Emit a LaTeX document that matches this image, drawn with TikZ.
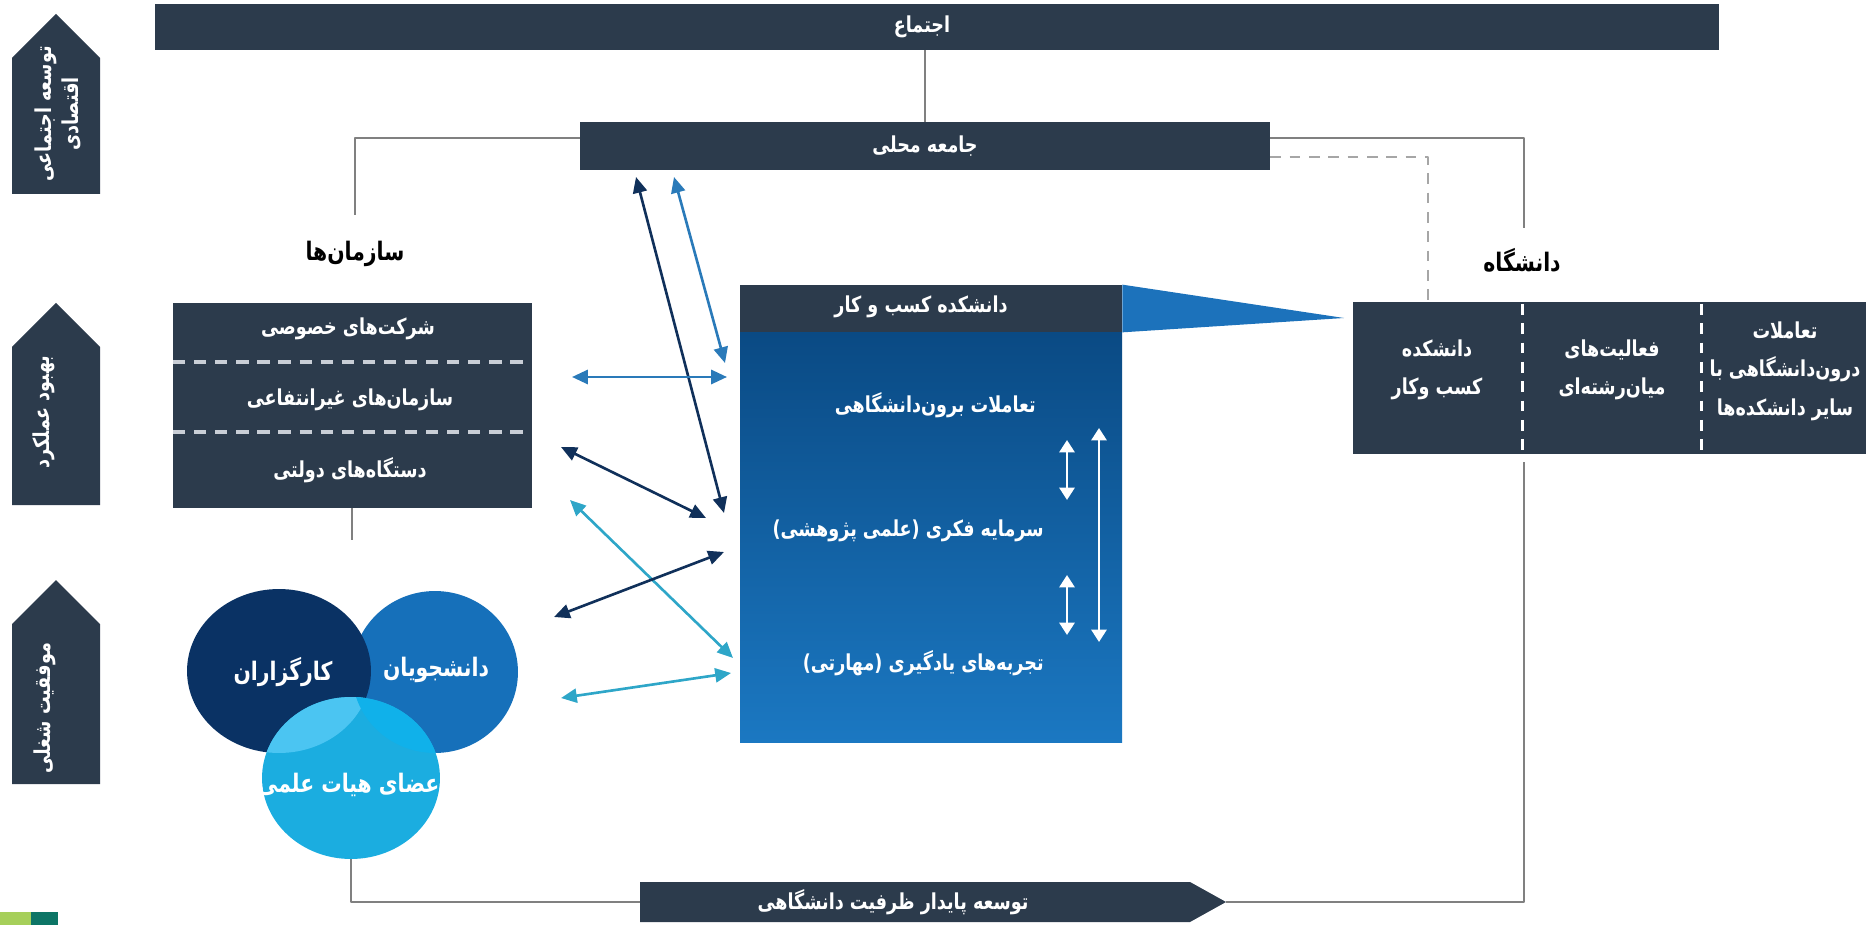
\documentclass[tikz,border=0pt]{standalone}
\usepackage{fontspec}
\usetikzlibrary{arrows.meta,shapes.geometric}
\newfontfamily\farsi[Script=Arabic, FakeStretch=0.8]{DejaVu Sans}
\TeXXeTstate=1
\newcommand\fa[1]{\beginR#1\endR}

\definecolor{slate}{HTML}{2C3B4C}
\definecolor{linkgray}{HTML}{808080}
\definecolor{navyarrow}{HTML}{10305A}
\definecolor{bluearrow}{HTML}{2A7AB9}
\definecolor{cyanarrow}{HTML}{2EA6C8}
\definecolor{circdark}{HTML}{0A3264}
\definecolor{circmid}{HTML}{1670BA}
\definecolor{circlight}{HTML}{1BADE0}
\definecolor{circpale}{HTML}{4BC5F2}
\definecolor{circbright}{HTML}{10B1EA}
\definecolor{bodytop}{HTML}{0A4A84}
\definecolor{bodymid}{HTML}{4465A0}
\definecolor{bodybot}{HTML}{1B78C2}
\definecolor{wedge}{HTML}{1C72BB}
\definecolor{sepgray}{HTML}{C9CED6}
\definecolor{logogreen}{HTML}{A6CF5A}
\definecolor{logoteal}{HTML}{0D7566}

\begin{document}
\begin{tikzpicture}[
        x=0.02cm, y=-0.02cm,
        line join=round,
        font=\farsi\bfseries\fontsize{12.5}{15}\selectfont,
        panel/.style 2 args={fill=slate, text=white, inner sep=0pt,
            minimum width=#1*0.02cm, minimum height=#2*0.02cm},
        blob/.style 2 args={ellipse, inner sep=0pt,
            minimum width=#1*0.04cm, minimum height=#2*0.04cm},
        whitetext/.style={text=white, align=center, inner sep=0pt},
        blobtext/.style={whitetext, font=\farsi\bfseries\fontsize{14.5}{17}\selectfont},
        heading/.style={font=\farsi\bfseries\fontsize{14.5}{17}\selectfont},
        unitext/.style={whitetext, font=\farsi\bfseries\fontsize{12.5}{22}\selectfont},
        link/.style={draw=linkgray, line width=1.1pt},
        dlink/.style={draw=linkgray!70, line width=1.1pt, dash pattern=on 6pt off 5pt},
        twoway/.style={line width=1.5pt,
            {Triangle[length=9pt,width=8pt]}-{Triangle[length=9pt,width=8pt]}},
        flowarrow/.style={white, line width=1.6pt,
            {Triangle[length=7pt,width=8.5pt]}-{Triangle[length=7pt,width=8.5pt]}}
    ]
        \useasboundingbox (0,0) rectangle (1875,925);

        % 左侧三个向上的箭头
        \foreach \ya/\yb in {14/194, 303/505, 580/784} {
            \fill[slate] (12,\yb) -- (12,\ya+44) -- (56,\ya)
                -- (100,\ya+44) -- (100,\yb) -- cycle;
        }
        \node[whitetext, rotate=90] (goalA) at (58,114) {\fa{توسعه اجتماعی}\\\fa{اقتصادی}};
        \node[whitetext, rotate=90] (goalB) at (44,412) {\fa{بهبود عملکرد}};
        \node[whitetext, rotate=90] (goalC) at (45,708) {\fa{موفقیت شغلی}};

        % 顶部横条
        \node[panel={1564}{46}] (society) at (937,27) {};
        \node[whitetext] (societytext) at (922,27) {\fa{اجتماع}};
        \node[panel={690}{48}] (local) at (925,146) {\fa{جامعه محلی}};
        \draw[link] (society.south -| local.north) -- (local.north);

        % 两侧标题
        \node[heading] (orgs) at (355,254) {\fa{سازمان‌ها}};
        \node[heading] (univ) at (1522,260) {\fa{دانشگاه}};

        % 连接线
        \coordinate (orgtop) at (355,215);
        \coordinate (unitop) at (1524,228);
        \coordinate (unidash) at (1428,302);
        \draw[link] ([yshift=4.5pt]local.west) -| (orgtop);
        \draw[link] ([yshift=4.5pt]local.east) -| (unitop);
        \draw[dlink] ([yshift=-6.3pt]local.east) -| (unidash);

        % 组织方框
        \node[panel={359}{205}] (org) at (352,405.5) {};
        \foreach \ys in {362,432} {
            \draw[sepgray, line width=1.8pt, dash pattern=on 7pt off 5pt]
                (173,\ys) -- (531,\ys);
        }
        \node[whitetext] (firms) at (348,329) {\fa{شرکت‌های خصوصی}};
        \node[whitetext] (ngos) at (350,400) {\fa{سازمان‌های غیرانتفاعی}};
        \node[whitetext] (govt) at (350,470) {\fa{دستگاه‌های دولتی}};
        \coordinate (orgfoot) at (352,540);
        \draw[link] (org.south) -- (orgfoot);

        % 三个圆
        \node[blob={83}{81}, fill=circmid] (students) at (435,672) {};
        \node[blob={92}{82}, fill=circdark] (brokers) at (279,671) {};
        \node[blob={89}{81}, fill=circlight] (faculty) at (351,778) {};
        \begin{scope}
            \clip (279,671) ellipse[x radius=1.84cm, y radius=1.64cm];
            \fill[circpale] (351,778) ellipse[x radius=1.78cm, y radius=1.62cm];
        \end{scope}
        \begin{scope}
            \clip (435,672) ellipse[x radius=1.66cm, y radius=1.62cm];
            \fill[circbright] (351,778) ellipse[x radius=1.78cm, y radius=1.62cm];
        \end{scope}
        \node[blobtext] (brokerstext) at (283,672) {\fa{کارگزاران}};
        \node[blobtext] (studentstext) at (436,670) {\fa{دانشجویان}};
        \node[blobtext] (facultytext) at (352,785) {\fa{اعضای هیات علمی}};

        % 底部箭头
        \fill[slate] (640,882) -- (1190,882) -- (1226,902) -- (1190,922) -- (640,922) -- cycle;
        \node[whitetext] (capacity) at (893,902) {\fa{توسعه پایدار ظرفیت دانشگاهی}};
        \coordinate (capL) at (640,902);
        \coordinate (capR) at (1226,902);
        \coordinate (unifoot) at (1524,462);
        \draw[link] (faculty.south) |- (capL);
        \draw[link] (capR) -| (unifoot);

        % 中间的学院方框
        \node[panel={382}{47}] (school) at (931,308.5) {};
        \node[whitetext] (schooltext) at (921,307) {\fa{دانشکده کسب و کار}};
        \node[anchor=north, inner sep=0pt, minimum width=382*0.02cm, minimum height=410*0.02cm,
            top color=bodytop, middle color=bodymid, bottom color=bodybot] (schoolbody) at (school.south) {};
        \coordinate (wedgetip) at (1344,318);
        \fill[wedge] (school.north east) -- (wedgetip) -- (school.south east) -- cycle;
        \node[whitetext, anchor=east] (outreach) at (1036,405) {\fa{تعاملات برون‌دانشگاهی}};
        \node[whitetext, anchor=east] (capital) at (1044,531) {\fa{سرمایه فکری (علمی پژوهشی)}};
        \node[whitetext, anchor=east] (learning) at (1044,663) {\fa{تجربه‌های یادگیری (مهارتی)}};
        \foreach \nm/\xa/\ya/\yb in {i/1067/440/500, j/1067/575/635, k/1099/428/642} {
            \coordinate (\nm1) at (\xa,\ya);
            \coordinate (\nm2) at (\xa,\yb);
            \draw[flowarrow] (\nm1) -- (\nm2);
        }

        % 双向箭头
        \foreach \nm/\col/\xa/\ya/\xb/\yb in {
                a/navyarrow/636/177/724/513,
                b/bluearrow/674/177/725/363,
                c/bluearrow/572/377/727/377,
                d/navyarrow/561/447/706/518,
                e/cyanarrow/570/500/733/658,
                f/navyarrow/554/617/724/552,
                g/cyanarrow/561/698/731/673} {
            \coordinate (\nm1) at (\xa,\ya);
            \coordinate (\nm2) at (\xb,\yb);
            \draw[twoway, \col] (\nm1) -- (\nm2);
        }

        % 大学方框
        \node[panel={513}{152}] (uni) at (1609.5,378) {};
        \foreach \xs in {1522,1701} {
            \draw[white, line width=1.7pt, dash pattern=on 6pt off 5pt] (\xs,304) -- (\xs,452);
        }
        \node[unitext] (unischool) at (1437,370) {\fa{دانشکده}\\\fa{کسب وکار}};
        \node[unitext] (interdisc) at (1612,370) {\fa{فعالیت‌های}\\\fa{میان‌رشته‌ای}};
        \node[unitext] (intra) at (1785,371) {\fa{تعاملات}\\\fa{درون‌دانشگاهی با}\\\fa{سایر دانشکده‌ها}};

        % 角落色块
        \fill[logogreen] (0,912) rectangle (31,925);
        \fill[logoteal] (31,912) rectangle (58,925);
    \end{tikzpicture}
\end{document}
